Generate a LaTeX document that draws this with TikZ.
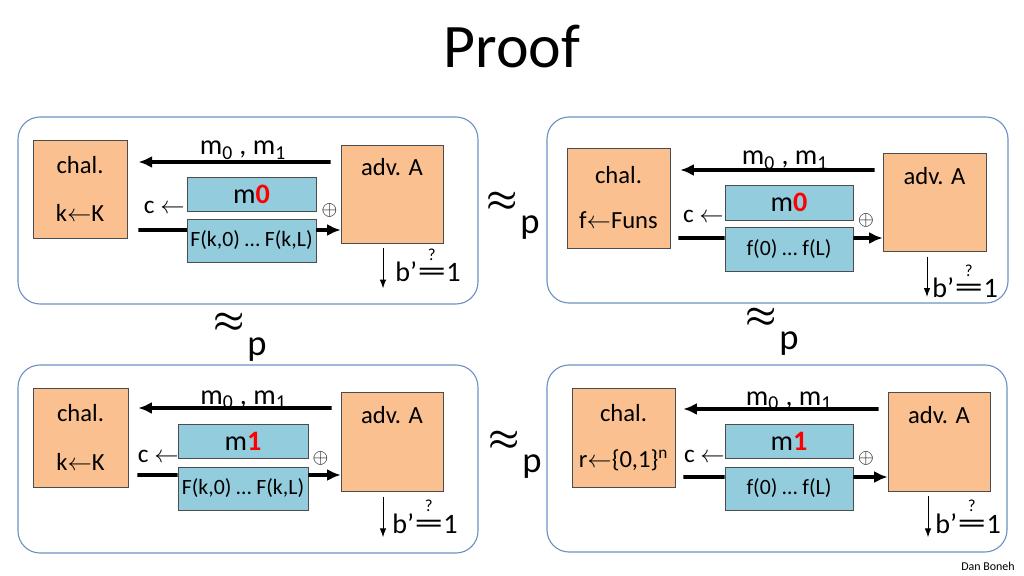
\documentclass[tikz,border=0pt]{standalone}
\usepackage{fontspec}
\setmainfont{Carlito}
\usepackage{amsmath}
\usepackage{graphicx}
\usepackage{tikz}
\usetikzlibrary{positioning,arrows.meta}
\definecolor{peach}{RGB}{250,192,144}
\definecolor{skyblue}{RGB}{147,205,221}
\definecolor{panelblue}{RGB}{110,145,195}
\definecolor{bitred}{RGB}{255,0,0}
\tikzset{
  panel/.style={draw=panelblue, line width=0.8pt, rounded corners=0.55cm},
  chalbox/.style={draw=black!70, fill=peach, minimum width=2.36cm, minimum height=2.46cm, align=center, inner sep=1pt, font=\fontsize{17.5}{21}\selectfont},
  advbox/.style={draw=black!70, fill=peach, minimum width=2.55cm, minimum height=2.46cm,
    label={[anchor=north, inner sep=0pt, yshift=-0.35cm, font=\fontsize{17.5}{21}\selectfont]north:adv. A}},
  msgbox/.style={draw=black!70, fill=skyblue, minimum width=3.22cm, minimum height=0.86cm, inner sep=0pt, font=\fontsize{20}{24}\selectfont},
  padbox/.style={draw=black!70, fill=skyblue, minimum width=3.22cm, minimum height=1.08cm, inner sep=0pt, font=\fontsize{15.5}{18}\selectfont},
  msglabel/.style={anchor=base, inner sep=0pt, font=\fontsize{20}{24}\selectfont},
  clabel/.style={anchor=base east, inner sep=0pt, font=\fontsize{18}{22}\selectfont},
  xorsign/.style={inner sep=0pt, font=\fontsize{15}{17}\selectfont},
  guess/.style={anchor=base west, inner sep=0pt, font=\fontsize{20}{24}\selectfont},
  approxp/.style={anchor=base west, inner sep=0pt},
  bigarrow/.style={-{Latex[length=3.4mm, width=3mm]}, line width=2.8pt},
  bigline/.style={line width=2.8pt},
  thinarrow/.style={-{Latex[length=2.2mm, width=1.6mm]}, line width=0.7pt}
}
\newcommand{\zerobit}{{\bfseries\color{bitred}0}}
\newcommand{\onebit}{{\bfseries\color{bitred}1}}
\newcommand{\qeq}{\ensuremath{\overset{\raisebox{2pt}{\fontsize{12}{12}\selectfont ?}}{\text{\scalebox{2.1}[1.1]{=}}}}}
\newcommand{\approxsub}{{\fontsize{24}{24}\selectfont$\boldsymbol{\approx}$}\hspace{2pt}\raisebox{-16.4pt}{\fontsize{26}{30}\selectfont p}}

\begin{document}
\begin{tikzpicture}[x=0.025cm, y=-0.025cm, >=Latex]
  \useasboundingbox (0,0) rectangle (1024,576);
  \node[font=\fontsize{44}{50}\selectfont] (title) at (512,47) {Proof};

  % top left: F(k,.) pad on m0
  \draw[panel] (18,117) rectangle (478,304);
  \node[chalbox] (chalTL) at (80,189) {chal.\\[13pt]k$\leftarrow$K};
  \node[advbox] (advTL) at (392,194) {};
  \node[msgbox] (mTL) at (251.5,194) {m\zerobit};
  \node[padbox] (fTL) at (251.5,240.5) {F(k,0) … F(k,L)};
  \node[msglabel] (msgTL) at (243,155) {m\textsubscript{0} , m\textsubscript{1}};
  \node[clabel] (cTL) at (185,214) {c $\leftarrow$};
  \node[xorsign] (xorTL) at (329.5,210.5) {$\oplus$};
  \node[guess] (bTL) at (395,282) {b’\qeq1};
  \draw[bigarrow] ([xshift=-0.25cm, yshift=0.8cm]advTL.west) -- ([xshift=0.275cm, yshift=0.675cm]chalTL.east);
  \draw[bigline] ([xshift=0.275cm, yshift=-1.025cm]chalTL.east) -- ([yshift=0.2625cm]fTL.west);
  \draw[bigarrow] ([yshift=0.2625cm]fTL.east) -- ([yshift=-0.9cm]advTL.west);
  \draw[thinarrow] ([xshift=-0.225cm, yshift=-0.125cm]advTL.south) -- ++(0,40);

  % top right: random f on m0
  \draw[panel] (547,117) rectangle (1008,303);
  \node[chalbox, minimum width=2.575cm, minimum height=2.5cm] (chalTR) at (618.5,198) {chal.\\[11pt]f$\leftarrow$Funs};
  \node[advbox, minimum width=2.575cm] (advTR) at (934.5,202.5) {};
  \node[msgbox, minimum width=3.2cm, minimum height=0.875cm] (mTR) at (789,202.5) {m\zerobit};
  \node[padbox, minimum width=3.2cm, minimum height=1.1cm] (fTR) at (789,249) {f(0) … f(L)};
  \node[msglabel] (msgTR) at (785,165) {m\textsubscript{0} , m\textsubscript{1}};
  \node[clabel] (cTR) at (724,223) {c $\leftarrow$};
  \node[xorsign] (xorTR) at (866,220) {$\oplus$};
  \node[guess] (bTR) at (932,298) {b’\qeq1};
  \draw[bigarrow] ([xshift=-0.2cm, yshift=0.8125cm]advTR.west) -- ([xshift=0.25cm, yshift=0.7cm]chalTR.east);
  \draw[bigline] ([xshift=0.2cm, yshift=-1cm]chalTR.east) -- ([yshift=0.275cm]fTR.west);
  \draw[bigarrow] ([yshift=0.275cm]fTR.east) -- ([yshift=-0.8875cm]advTR.west);
  \draw[thinarrow] ([xshift=-0.1875cm, yshift=-0.125cm]advTR.south) -- ++(0,40);

  % bottom left: F(k,.) pad on m1
  \draw[panel] (18,365) rectangle (478,553);
  \node[chalbox, minimum width=2.375cm, minimum height=2.475cm] (chalBL) at (80.5,437.5) {chal.\\[14pt]k$\leftarrow$K};
  \node[advbox, minimum height=2.475cm] (advBL) at (392,441.5) {};
  \node[msgbox, minimum width=3.25cm] (mBL) at (243,441) {m\onebit};
  \node[padbox, minimum width=3.25cm] (fBL) at (243,488.5) {F(k,0) … F(k,L)};
  \node[msglabel] (msgBL) at (243.5,404) {m\textsubscript{0} , m\textsubscript{1}};
  \node[clabel] (cBL) at (179,462) {c $\leftarrow$};
  \node[xorsign] (xorBL) at (320.5,458.5) {$\oplus$};
  \node[guess] (bBL) at (392,533) {b’\qeq1};
  \draw[bigarrow] ([xshift=-0.225cm, yshift=0.8375cm]advBL.west) -- ([xshift=0.25cm, yshift=0.7375cm]chalBL.east);
  \draw[bigline] ([xshift=0.225cm, yshift=-0.9375cm]chalBL.east) -- ([yshift=0.3375cm]fBL.west);
  \draw[bigarrow] ([yshift=0.3375cm]fBL.east) -- ([yshift=-0.8375cm]advBL.west);
  \draw[thinarrow] ([xshift=-0.225cm, yshift=-0.15cm]advBL.south) -- ++(0,40);

  % bottom right: random f on m1
  \draw[panel] (547,365) rectangle (1007,552);
  \node[chalbox, minimum width=2.575cm, minimum height=2.475cm] (chalBR) at (623.5,437.5) {chal.\\[12pt]r$\leftarrow$\{0,1\}\textsuperscript{n}};
  \node[advbox, minimum height=2.475cm] (advBR) at (939,441.5) {};
  \node[msgbox, minimum width=3.2cm] (mBR) at (789,441) {m\onebit};
  \node[padbox, minimum width=3.2cm] (fBR) at (789,488.5) {f(0) … f(L)};
  \node[msglabel] (msgBR) at (789,405) {m\textsubscript{0} , m\textsubscript{1}};
  \node[clabel] (cBR) at (725,462) {c $\leftarrow$};
  \node[xorsign] (xorBR) at (866,458.5) {$\oplus$};
  \node[guess] (bBR) at (935,533) {b’\qeq1};
  \draw[bigarrow] ([xshift=-0.225cm, yshift=0.8125cm]advBR.west) -- ([xshift=0.2cm, yshift=0.7125cm]chalBR.east);
  \draw[bigline] ([xshift=0.2cm, yshift=-0.9875cm]chalBR.east) -- ([yshift=0.2875cm]fBR.west);
  \draw[bigarrow] ([yshift=0.2875cm]fBR.east) -- ([yshift=-0.8875cm]advBR.west);
  \draw[thinarrow] ([xshift=-0.275cm, yshift=-0.125cm]advBR.south) -- ++(0,41);

  % indistinguishability marks
  \node[approxp] (simTop) at (486,210.6) {\approxsub};
  \node[approxp] (simLeft) at (213,332) {\approxsub};
  \node[approxp] (simRight) at (745,326.6) {\approxsub};
  \node[approxp] (simBot) at (488,449.6) {\approxsub};

  \node[font=\fontsize{8.5}{10}\selectfont] (credit) at (988,566) {Dan Boneh};
\end{tikzpicture}
\end{document}
